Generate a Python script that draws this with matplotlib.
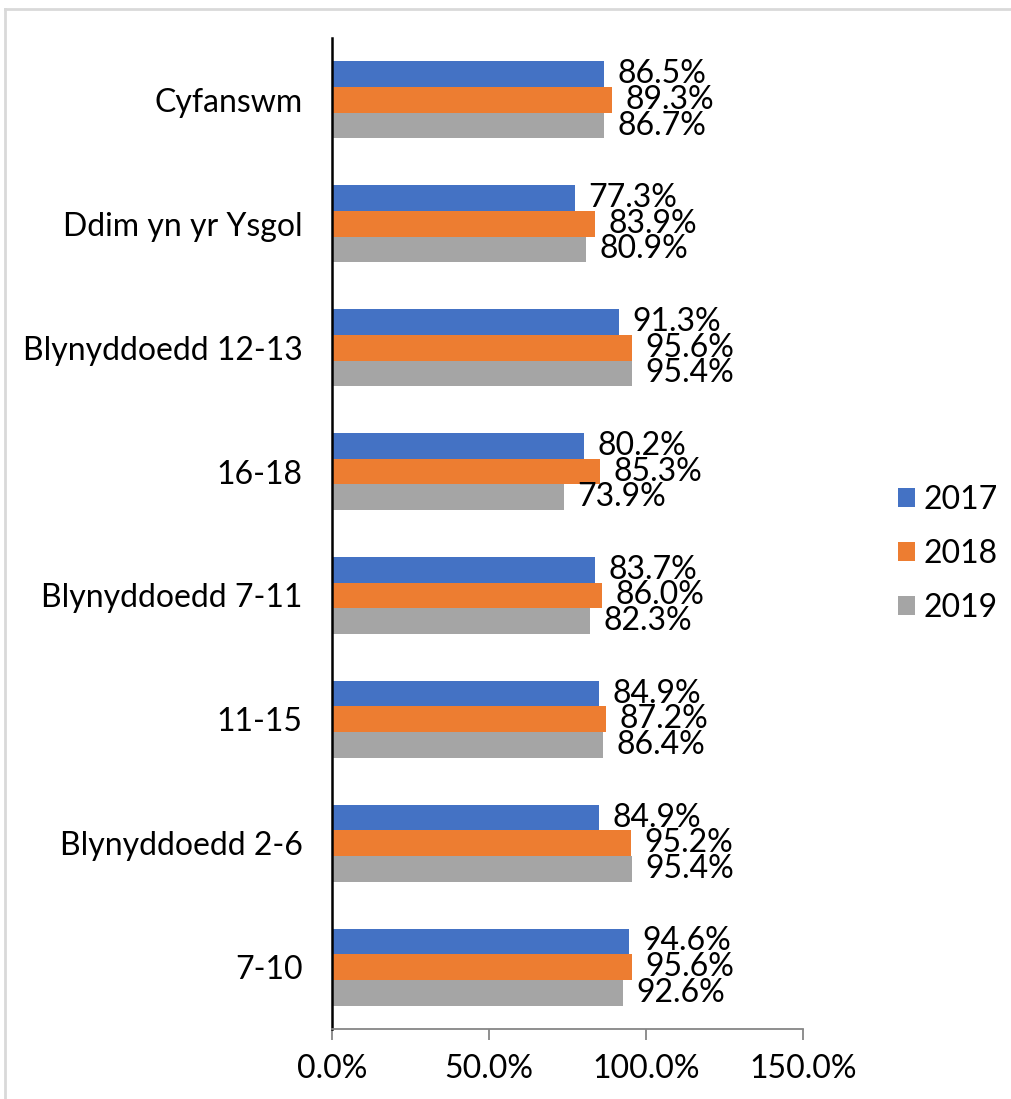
import matplotlib
matplotlib.use("Agg")
import matplotlib.pyplot as plt
from matplotlib.lines import Line2D
import numpy as np

plt.rcParams['font.family'] = ['Lato', 'DejaVu Sans']

# categories bottom -> top
categories = ["7-10", "Blynyddoedd 2-6", "11-15", "Blynyddoedd 7-11",
              "16-18", "Blynyddoedd 12-13", "Ddim yn yr Ysgol", "Cyfanswm"]
series_names = ["2017", "2018", "2019"]
v2017 = [94.6, 84.9, 84.9, 83.7, 80.2, 91.3, 77.3, 86.5]
v2018 = [95.6, 95.2, 87.2, 86.0, 85.3, 95.6, 83.9, 89.3]
v2019 = [92.6, 95.4, 86.4, 82.3, 73.9, 95.4, 80.9, 86.7]
colors = ["#4472C4", "#ED7D31", "#A5A5A5"]

W, H = 1011, 1099
fig = plt.figure(figsize=(W / 100, H / 100), dpi=100)
ax = fig.add_axes([332 / W, 70 / H, 471 / W, 991 / H])

y = np.arange(len(categories))
bh = 0.207
offsets = [bh, 0, -bh]
fs = 23

for vals, off, col, name in zip([v2017, v2018, v2019], offsets, colors, series_names):
    ax.barh(y + off, vals, height=bh, color=col, label=name)
    for yi, v in zip(y, vals):
        ax.text(v + 4.3, yi + off, f"{v:.1f}%", va="center", ha="left", fontsize=fs)

ax.set_xlim(0, 150)
ax.set_ylim(-0.5, len(categories) - 0.5)
ax.set_xticks([0, 50, 100, 150])
ax.set_xticklabels(["0.0%", "50.0%", "100.0%", "150.0%"], fontsize=fs)
ax.set_yticks(y)
ax.set_yticklabels(categories, fontsize=fs)
ax.tick_params(axis="y", length=0, pad=21)
ax.tick_params(axis="x", length=8, color="#868686", width=1.3, pad=10)

for s in ["top", "right"]:
    ax.spines[s].set_visible(False)
ax.spines["left"].set_color("black")
ax.spines["left"].set_linewidth(1.8)
ax.spines["bottom"].set_color("#868686")
ax.spines["bottom"].set_linewidth(1.3)

fig.legend(loc="center left", bbox_to_anchor=(869 / W, 1 - 554 / H), frameon=False,
           fontsize=fs, handlelength=0.55, handleheight=0.55, labelspacing=0.75,
           handletextpad=0.25)

# light border of the original frame (top and left)
fig.add_artist(Line2D([5 / W, 1], [1 - 9 / H, 1 - 9 / H], transform=fig.transFigure,
                      color="#D9D9D9", lw=2))
fig.add_artist(Line2D([5 / W, 5 / W], [0, 1 - 9 / H], transform=fig.transFigure,
                      color="#D9D9D9", lw=2))

fig.savefig("out.png", dpi=100)
